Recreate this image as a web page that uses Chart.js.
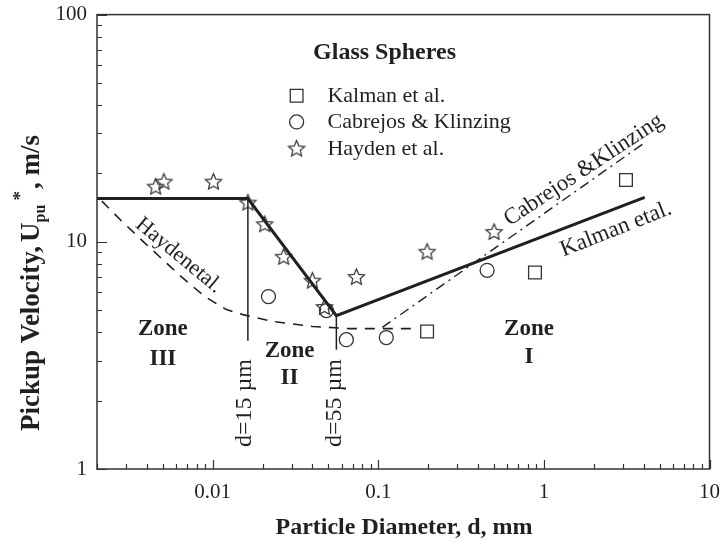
<!DOCTYPE html>
<html>
<head>
<meta charset="utf-8">
<script src="https://cdn.jsdelivr.net/npm/chart.js@4.4.0/dist/chart.umd.min.js"></script>
<style>
  html,body{margin:0;background:#fff}
  #wrap{width:723px;height:542px}
</style>
</head>
<body>
<div id="wrap"><canvas id="c" width="723" height="542"></canvas></div>
<script>
// Pickup velocity of glass spheres vs particle diameter (log-log)

// measured points
const kalmanD=[0.197,0.883,3.13];
const kalmanU=[4.03,7.33,18.7];
const cabrejosD=[0.0217,0.0486,0.0641,0.1117,0.454];
const cabrejosU=[5.74,4.98,3.71,3.79,7.49];
const haydenD=[0.00452,0.00507,0.0101,0.0163,0.0206,0.0268,0.040,0.0473,0.0737,0.197,0.50];
const haydenU=[17.4,18.3,18.3,14.8,11.9,8.55,6.71,5.14,6.97,9.0,11.0];

// correlation curves
const kalmanFitD=[0.002,0.0163,0.0558,4.06];
const kalmanFitU=[15.5,15.5,4.73,15.7];
const haydenFitD=[0.00214,0.00283,0.00379,0.00633,0.00895,0.0121,0.0152,0.0230,0.0400,0.0669,0.169];
const haydenFitU=[15.1,12.3,10.05,7.11,5.74,5.03,4.78,4.46,4.24,4.15,4.15];
const cabrejosFitD=[0.1057,4.12];
const cabrejosFitU=[4.20,27.5];

// zone boundaries (d=15 um, d=55 um)
const zoneD=[0.0163,0.0558];
const zoneTop=[15.5,4.73];
const zoneBottom=[3.67,3.35];

const xTicks=[0.01,0.1,1,10];
const yTicks=[1,10,100];

const ink='#231f20';
const serif='"Liberation Serif","Times New Roman",serif';

const pts=(xs,ys)=>xs.map((x,i)=>({x,y:ys[i]}));

function starImg(r){
  const s=Math.ceil(r*2+4);
  const c=document.createElement('canvas');c.width=c.height=s;
  const g=c.getContext('2d');
  g.strokeStyle='#333';g.lineWidth=1.2;g.lineJoin='miter';
  g.beginPath();
  for(let i=0;i<10;i++){
    const a=-Math.PI/2+i*Math.PI/5,rr=i%2?r*0.46:r;
    g.lineTo(s/2+rr*Math.cos(a),s/2+rr*Math.sin(a));
  }
  g.closePath();g.stroke();
  return c;
}
const star=starImg(8.5);

const lineDs=(data,w,dash)=>({data,showLine:true,borderColor:ink,borderWidth:w,borderDash:dash||[],pointRadius:0,tension:0,fill:false});
const markDs=(data,style,r)=>({data,showLine:false,pointStyle:style,pointRadius:r,borderColor:'#333',borderWidth:1.3,backgroundColor:'transparent'});

// text inside the plot, placed in data units
const notes=[
  {t:'Glass Spheres',x:0.109,y:67.9,s:24,b:true,r:0},
  {t:'Haydenetal.',x:0.00624,y:8.7,s:22,b:false,r:39.7},
  {t:'Cabrejos &Klinzing',x:1.74,y:20.7,s:23,b:false,r:-33.4},
  {t:'Kalman etal.',x:2.72,y:11.35,s:23,b:false,r:-21.5},
  {t:'Zone',x:0.005,y:4.11,s:23,b:true,r:0},
  {t:'III',x:0.005,y:3.06,s:23,b:true,r:0},
  {t:'Zone',x:0.0291,y:3.29,s:23,b:true,r:0},
  {t:'II',x:0.0291,y:2.52,s:23,b:true,r:0},
  {t:'Zone',x:0.813,y:4.15,s:23,b:true,r:0},
  {t:'I',x:0.813,y:3.12,s:23,b:true,r:0},
  {t:'d=15 µm',x:0.0156,y:1.95,s:24,b:false,r:-90},
  {t:'d=55 µm',x:0.0543,y:1.95,s:24,b:false,r:-90}
];
const legendRows=[
  {t:'Kalman et al.',style:'rect',r:9,y:43.9},
  {t:'Cabrejos & Klinzing',style:'circle',r:7,y:33.7},
  {t:'Hayden et al.',style:star,r:8,y:25.6}
];

// y title pieces: text, size, baseline shift, gap before
const yTitle=[['Pickup Velocity,',27,0,0],['U',27,0,4],['pu',16,6,0],['*',19,-13,4],[',',27,0,2],[' m/s',27,0,0]];

const decor={
  id:'decor',
  afterDraw(chart){
    const ctx=chart.ctx,a=chart.chartArea,sx=chart.scales.x,sy=chart.scales.y;
    ctx.save();
    // frame
    ctx.strokeStyle='#333';ctx.lineWidth=1.5;
    ctx.strokeRect(a.left,a.top,a.right-a.left,a.bottom-a.top);
    // inward ticks, bottom and left
    ctx.lineWidth=1.2;ctx.beginPath();
    for(let e=-3;e<=1;e++)for(let m=1;m<=9;m++){
      const v=m*Math.pow(10,e);
      if(v<sx.min*0.999||v>sx.max*1.001)continue;
      const px=Math.round(sx.getPixelForValue(v))+0.5,len=m===1?9:5;
      ctx.moveTo(px,a.bottom);ctx.lineTo(px,a.bottom-len);
    }
    for(let e=0;e<=2;e++)for(let m=1;m<=9;m++){
      const v=m*Math.pow(10,e);
      if(v>sy.max*1.001)continue;
      const py=Math.round(sy.getPixelForValue(v))+0.5,len=m===1?10:5;
      ctx.moveTo(a.left,py);ctx.lineTo(a.left+len,py);
    }
    ctx.stroke();

    ctx.fillStyle=ink;ctx.textBaseline='middle';
    notes.forEach(n=>{
      ctx.save();
      ctx.translate(sx.getPixelForValue(n.x),sy.getPixelForValue(n.y));
      ctx.rotate(n.r*Math.PI/180);
      ctx.font=(n.b?'bold ':'')+n.s+'px '+serif;ctx.textAlign='center';
      ctx.fillText(n.t,0,0);
      ctx.restore();
    });

    // legend
    const mx=sx.getPixelForValue(0.0321),tx=sx.getPixelForValue(0.0493);
    legendRows.forEach(l=>{
      const y=sy.getPixelForValue(l.y);
      ctx.strokeStyle='#333';ctx.lineWidth=1.3;ctx.fillStyle='rgba(0,0,0,0)';
      Chart.helpers.drawPoint(ctx,{pointStyle:l.style,radius:l.r,borderWidth:1.3},mx,y);
      ctx.font='22px '+serif;ctx.textAlign='left';ctx.fillStyle=ink;
      ctx.fillText(l.t,tx,y);
    });

    // axis titles
    ctx.font='bold 24px '+serif;ctx.textAlign='center';
    ctx.fillText('Particle Diameter, d, mm',404,528);

    ctx.save();ctx.translate(30,283);ctx.rotate(-Math.PI/2);
    let w=0;
    yTitle.forEach(p=>{ctx.font='bold '+p[1]+'px '+serif;w+=p[3]+ctx.measureText(p[0]).width;});
    let x=-w/2;ctx.textAlign='left';ctx.textBaseline='alphabetic';
    yTitle.forEach(p=>{ctx.font='bold '+p[1]+'px '+serif;x+=p[3];ctx.fillText(p[0],x,9+p[2]);x+=ctx.measureText(p[0]).width;});
    ctx.restore();
    ctx.restore();
  }
};

new Chart(document.getElementById('c'),{
  type:'scatter',
  data:{datasets:[
    lineDs(pts(kalmanFitD,kalmanFitU),3),
    lineDs(pts(haydenFitD,haydenFitU),1.6,[10,8]),
    lineDs(pts(cabrejosFitD,cabrejosFitU),1.4,[10,5,2,5]),
    lineDs([{x:zoneD[0],y:zoneTop[0]},{x:zoneD[0],y:zoneBottom[0]}],1.5),
    lineDs([{x:zoneD[1],y:zoneTop[1]},{x:zoneD[1],y:zoneBottom[1]}],1.5),
    markDs(pts(kalmanD,kalmanU),'rect',9),
    markDs(pts(cabrejosD,cabrejosU),'circle',7),
    markDs(pts(haydenD,haydenU),star,8)
  ]},
  options:{
    responsive:false,animation:false,devicePixelRatio:1,events:[],
    layout:{padding:{left:0,right:2,top:11,bottom:0}},
    plugins:{legend:{display:false},tooltip:{enabled:false}},
    scales:{
      x:{type:'logarithmic',min:0.002,max:10,
        afterBuildTicks:s=>{s.ticks=xTicks.map(v=>({value:v}));},
        afterFit:s=>{s.height=73;},
        grid:{display:false},border:{display:false},
        ticks:{padding:3,color:ink,font:{family:serif,size:21},callback:v=>String(v),maxRotation:0,autoSkip:false}},
      y:{type:'logarithmic',min:1,max:100,
        afterBuildTicks:s=>{s.ticks=yTicks.map(v=>({value:v}));},
        afterFit:s=>{s.width=97;},
        grid:{display:false},border:{display:false},
        ticks:{padding:2,color:ink,font:{family:serif,size:21},callback:v=>String(v),autoSkip:false}}
    }
  },
  plugins:[decor]
});
</script>
</body>
</html>
